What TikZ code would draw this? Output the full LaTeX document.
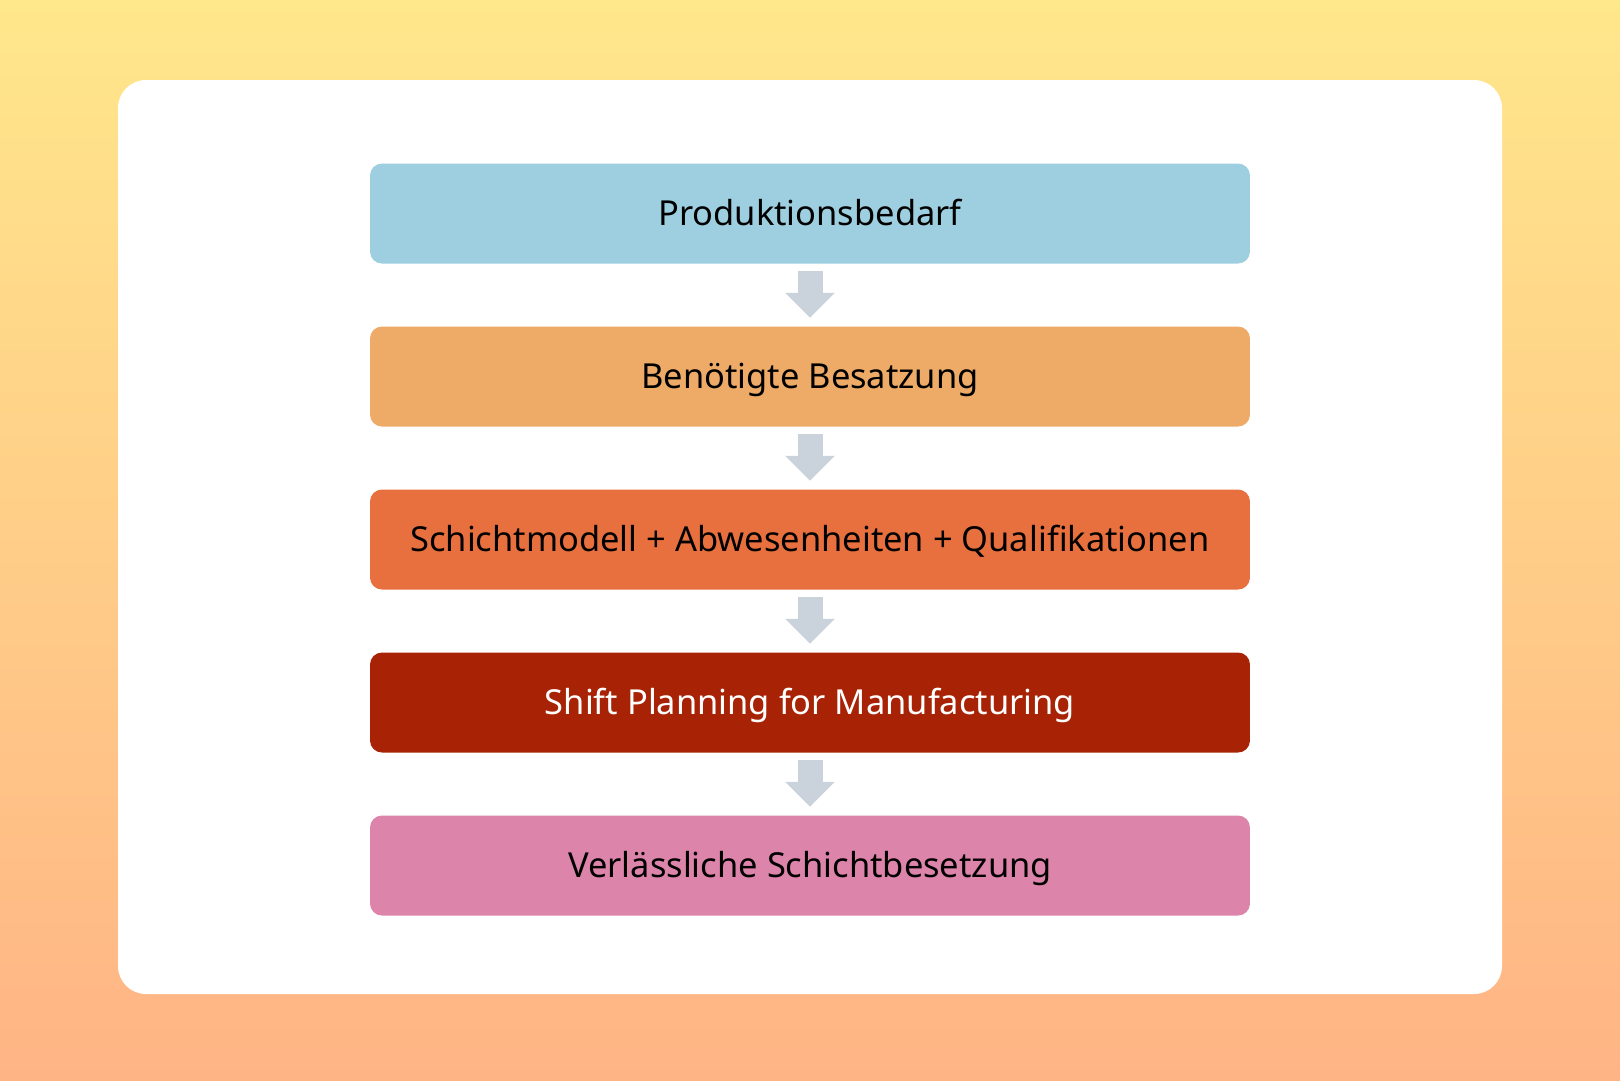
\documentclass[tikz,border=0pt]{standalone}
\usepackage{fontspec}
\setmainfont{Noto Sans}
\usetikzlibrary{matrix,arrows.meta}
\definecolor{bgtop}{RGB}{255,231,139}
\definecolor{bgbot}{RGB}{255,180,133}
\definecolor{demand}{RGB}{157,207,224}
\definecolor{crew}{RGB}{238,171,103}
\definecolor{model}{RGB}{232,112,63}
\definecolor{planning}{RGB}{168,35,6}
\definecolor{result}{RGB}{220,132,170}
\definecolor{flowgray}{RGB}{202,210,220}
\tikzset{stage/.style={fill=#1, rounded corners=1.2mm, minimum width=88mm, minimum height=10mm,
    inner sep=0pt, text height=0.79em, text depth=0.13em, font=\fontsize{9.8pt}{11pt}\selectfont},
  flow/.style={draw=flowgray, line width=2.5mm, shorten <=0.7mm, shorten >=0.8mm,
    -{Triangle[width=4.8mm, length=2.5mm]}}}

\begin{document}
\begin{tikzpicture}[x=0.1mm, y=-0.1mm]
\shade[top color=bgtop, bottom color=bgbot] (0,0) rectangle (1620,1080);
\fill[white, rounded corners=2.8mm] (118,80) rectangle (1502,994);
\matrix (m) [matrix of nodes, row sep=6.3mm, inner sep=0pt] at (810,539.5) {
|[stage=demand]| Produktionsbedarf \\
|[stage=crew]| Benötigte Besatzung \\
|[stage=model]| Schichtmodell + Abwesenheiten + Qualifikationen \\
|[stage=planning, text=white]| Shift Planning for Manufacturing \\
|[stage=result]| Verlässliche Schichtbesetzung \\
};

\foreach \i [evaluate=\i as \j using int(\i+1)] in {1,...,4}
  \draw[flow] (m-\i-1) -- (m-\j-1);
\end{tikzpicture}
\end{document}
